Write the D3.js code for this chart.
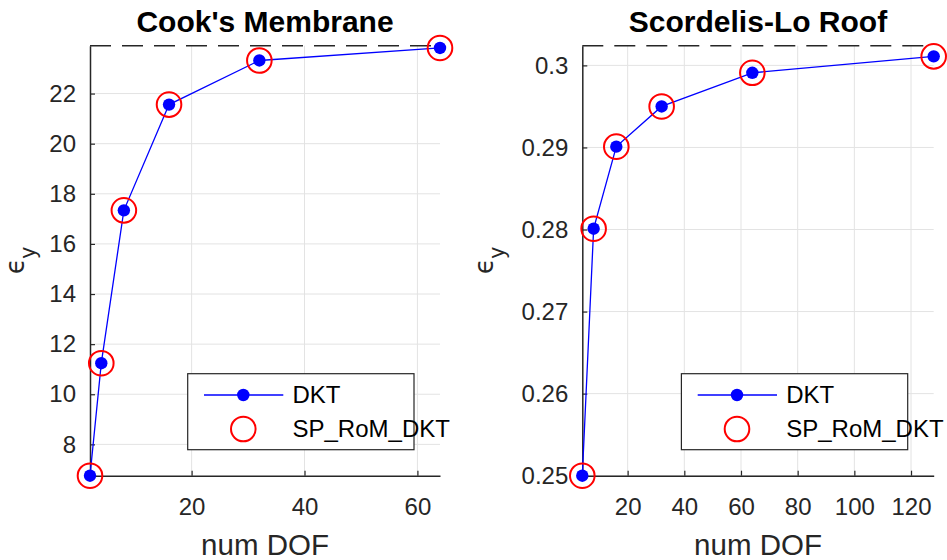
<!DOCTYPE html>
<html>
<head>
<meta charset="utf-8">
<script src="https://cdn.jsdelivr.net/npm/d3@7"></script>
<style>
  body { margin: 0; background: #fff; }
  text { font-family: "Liberation Sans", Arial, sans-serif; }
</style>
</head>
<body>
<svg id="chart"></svg>
<script>
// Cook's Membrane
var cookDOF = [2, 4, 8, 16, 32, 64]
var cookDKT = [6.75, 11.24, 17.34, 21.56, 23.32, 23.82]
var cookSP = [6.75, 11.24, 17.34, 21.56, 23.32, 23.82]
var cookRef = 23.91
var cookXTicks = [20, 40, 60]
var cookYTicks = [8, 10, 12, 14, 16, 18, 20, 22]
var cookYLabels = ["8", "10", "12", "14", "16", "18", "20", "22"]

// Scordelis-Lo Roof
var roofDOF = [4, 8, 16, 32, 64, 128]
var roofDKT = [0.2500, 0.2801, 0.2901, 0.2950, 0.2991, 0.3011]
var roofSP = [0.2500, 0.2801, 0.2901, 0.2950, 0.2991, 0.3011]
var roofRef = 0.3024
var roofXTicks = [20, 40, 60, 80, 100, 120]
var roofYTicks = [0.25, 0.26, 0.27, 0.28, 0.29, 0.30]
var roofYLabels = ["0.25", "0.26", "0.27", "0.28", "0.29", "0.3"]

var seriesNames = ["DKT", "SP_RoM_DKT"]

var dimensions = {
    width: 947,
    height: 560,
    top: 45.7,
    bottom: 475.7
}

var svg = d3.select("#chart")
            .attr("width", dimensions.width)
            .attr("height", dimensions.height)

svg.append("rect")
    .attr("width", dimensions.width)
    .attr("height", dimensions.height)
    .attr("fill", "white")

function drawPanel(opt) {
    var g = svg.append("g")

    var xScale = d3.scaleLinear()
                    .domain([d3.min(opt.x), d3.max(opt.x)])
                    .range([opt.left, opt.right])
    var yScale = d3.scaleLinear()
                    .domain([d3.min(opt.dkt), opt.ref])
                    .range([dimensions.bottom, dimensions.top])

    // grid
    g.selectAll(".vgrid")
        .data(opt.xTicks)
        .join("line")
        .attr("x1", d => xScale(d))
        .attr("x2", d => xScale(d))
        .attr("y1", dimensions.top)
        .attr("y2", dimensions.bottom)
        .attr("stroke", "#e3e3e3")
        .attr("stroke-width", 1)
    g.selectAll(".hgrid")
        .data(opt.yTicks)
        .join("line")
        .attr("x1", opt.left)
        .attr("x2", opt.right)
        .attr("y1", d => yScale(d))
        .attr("y2", d => yScale(d))
        .attr("stroke", "#e3e3e3")
        .attr("stroke-width", 1)

    // reference (dashed) line at the top
    g.append("line")
        .attr("x1", opt.left)
        .attr("x2", opt.right)
        .attr("y1", yScale(opt.ref))
        .attr("y2", yScale(opt.ref))
        .attr("stroke", "#262626")
        .attr("stroke-width", 1.6)
        .attr("stroke-dasharray", "21,11")

    var xAxisGen = d3.axisBottom(xScale)
                    .tickValues(opt.xTicks)
                    .tickFormat(d3.format("d"))
                    .tickSizeInner(-5)
                    .tickSizeOuter(0)
                    .tickPadding(22.6)
    var xAxis = g.append("g")
                .attr("transform", `translate(0,${dimensions.bottom})`)
                .call(xAxisGen)
    xAxis.select(".domain").attr("stroke", "#262626").attr("stroke-width", 1.5)
    xAxis.selectAll(".tick line").attr("stroke", "#262626").attr("stroke-width", 1.2)
    xAxis.selectAll("text")
        .attr("font-size", 24)
        .attr("fill", "#262626")
        .style("font-family", "Liberation Sans, Arial, sans-serif")

    var yAxisGen = d3.axisLeft(yScale)
                    .tickValues(opt.yTicks)
                    .tickFormat((d, i) => opt.yLabels[i])
                    .tickSizeInner(-5)
                    .tickSizeOuter(0)
                    .tickPadding(14)
    var yAxis = g.append("g")
                .attr("transform", `translate(${opt.left},0)`)
                .call(yAxisGen)
    yAxis.select(".domain").attr("stroke", "#262626").attr("stroke-width", 1.5)
    yAxis.selectAll(".tick line").attr("stroke", "#262626").attr("stroke-width", 1.2)
    yAxis.selectAll("text")
        .attr("font-size", 24)
        .attr("fill", "#262626")
        .style("font-family", "Liberation Sans, Arial, sans-serif")

    var pts = opt.x.map((d, i) => ({x: d, y: opt.dkt[i], s: opt.sp[i]}))

    var line = d3.line()
                .x(d => xScale(d.x))
                .y(d => yScale(d.y))

    g.append("path")
        .datum(pts)
        .attr("d", line)
        .attr("fill", "none")
        .attr("stroke", "#0000ff")
        .attr("stroke-width", 1.3)

    g.selectAll(".dot")
        .data(pts)
        .join("circle")
        .attr("cx", d => xScale(d.x))
        .attr("cy", d => yScale(d.y))
        .attr("r", 6.2)
        .attr("fill", "#0000ff")

    g.selectAll(".ring")
        .data(pts)
        .join("circle")
        .attr("cx", d => xScale(d.x))
        .attr("cy", d => yScale(d.s))
        .attr("r", 12.3)
        .attr("fill", "none")
        .attr("stroke", "#ff0000")
        .attr("stroke-width", 2)

    // title
    g.append("text")
        .attr("x", (opt.left + opt.right) / 2)
        .attr("y", 31.7)
        .attr("text-anchor", "middle")
        .attr("font-size", 30)
        .attr("font-weight", "bold")
        .attr("fill", "#000")
        .text(opt.title)

    // x label
    g.append("text")
        .attr("x", (opt.left + opt.right) / 2)
        .attr("y", 555)
        .attr("text-anchor", "middle")
        .attr("font-size", 29.5)
        .attr("fill", "#262626")
        .text("num DOF")

    // y label
    var yl = g.append("text")
        .attr("transform", `translate(${opt.yLabelX},${(dimensions.top + dimensions.bottom) / 2}) rotate(-90)`)
        .attr("text-anchor", "middle")
        .attr("fill", "#262626")
    yl.append("tspan")
        .attr("font-size", 26)
        .style("font-family", "DejaVu Sans, sans-serif")
        .text("\u03f5")
    yl.append("tspan")
        .attr("font-size", 22)
        .attr("dy", 11)
        .text("y")

    // legend
    var lx = opt.right - 26 - 226.3
    var ly = dimensions.bottom - 26 - 76
    var legend = g.append("g")
        .attr("transform", `translate(${lx},${ly})`)
    legend.append("rect")
        .attr("width", 226.3)
        .attr("height", 76)
        .attr("fill", "white")
        .attr("stroke", "#262626")
        .attr("stroke-width", 1.2)
    legend.append("line")
        .attr("x1", 16.3)
        .attr("x2", 95.6)
        .attr("y1", 21.3)
        .attr("y2", 21.3)
        .attr("stroke", "#0000ff")
        .attr("stroke-width", 1.3)
    legend.append("circle")
        .attr("cx", 55.6)
        .attr("cy", 21.3)
        .attr("r", 6.2)
        .attr("fill", "#0000ff")
    legend.append("circle")
        .attr("cx", 55.6)
        .attr("cy", 55.3)
        .attr("r", 12.3)
        .attr("fill", "none")
        .attr("stroke", "#ff0000")
        .attr("stroke-width", 2)
    legend.selectAll(".ltext")
        .data(seriesNames)
        .join("text")
        .attr("x", 104.8)
        .attr("y", (d, i) => 21.3 + i * 34)
        .attr("dy", "0.35em")
        .attr("font-size", 24)
        .attr("fill", "#000")
        .text(d => d)
}

drawPanel({
    title: "Cook's Membrane",
    x: cookDOF, dkt: cookDKT, sp: cookSP, ref: cookRef,
    xTicks: cookXTicks, yTicks: cookYTicks, yLabels: cookYLabels,
    left: 90, right: 440, yLabelX: 24
})

drawPanel({
    title: "Scordelis-Lo Roof",
    x: roofDOF, dkt: roofDKT, sp: roofSP, ref: roofRef,
    xTicks: roofXTicks, yTicks: roofYTicks, yLabels: roofYLabels,
    left: 582.3, right: 933.7, yLabelX: 493
})
</script>
</body>
</html>
